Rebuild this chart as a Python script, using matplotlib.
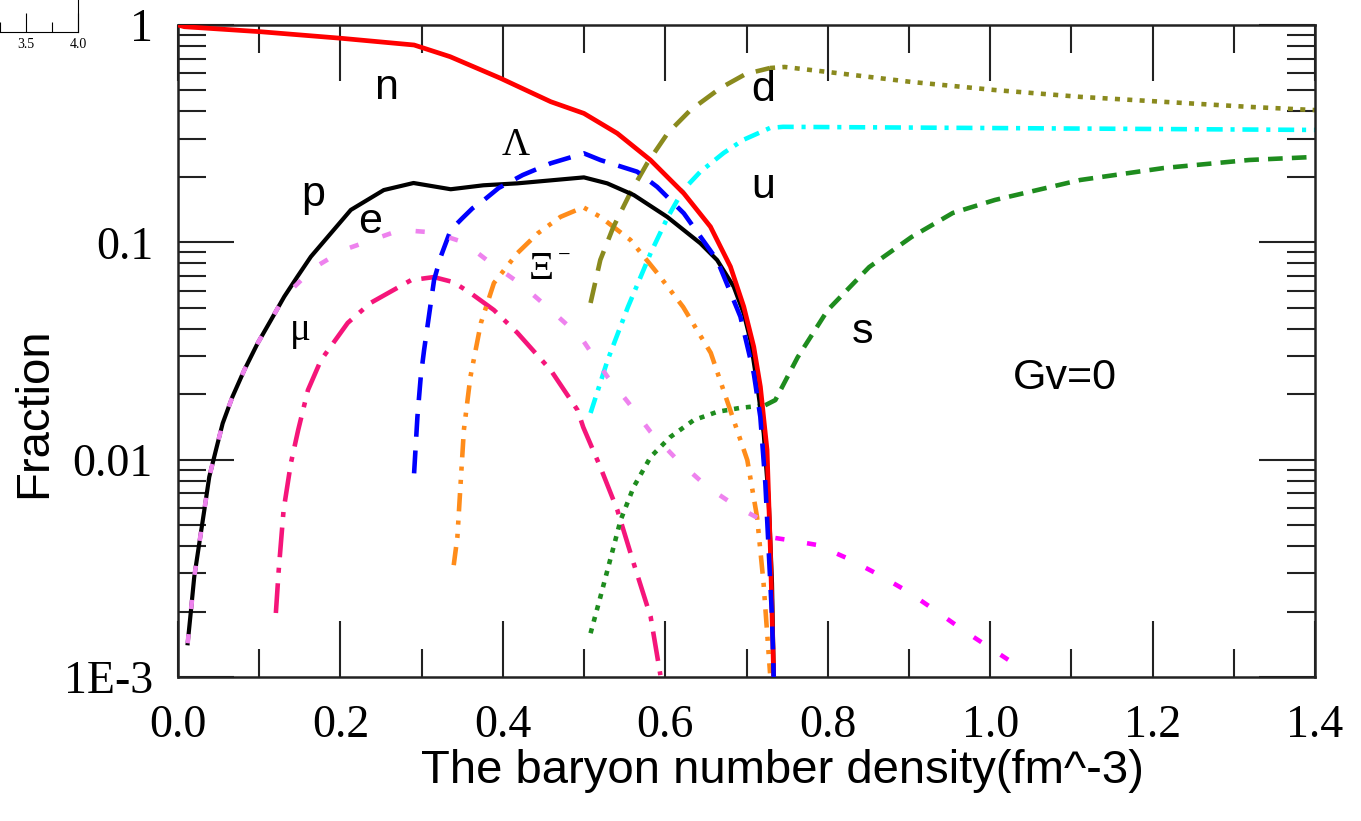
import matplotlib
matplotlib.use("Agg")
import matplotlib.pyplot as plt
from matplotlib.ticker import LogLocator, MultipleLocator, NullFormatter

SERIF = "Liberation Serif"
SANS = "Liberation Sans"

# particle fractions vs baryon density (fm^-3)
n_x = [0.0, 0.0078, 0.102, 0.2005, 0.2907, 0.335, 0.397, 0.459, 0.4998, 0.5408, 0.5818, 0.6228,
       0.6556, 0.6802, 0.6966, 0.7089, 0.7171, 0.7253, 0.7294, 0.7335]
n_y = [1.0, 0.982, 0.931, 0.869, 0.809, 0.715, 0.569, 0.4436, 0.392, 0.3175, 0.239, 0.168,
       0.118, 0.0773, 0.0506, 0.0331, 0.02165, 0.01107, 0.00384, 0.001]

p_x = [0.0119, 0.016, 0.020, 0.0262, 0.0324, 0.0385, 0.0467, 0.055, 0.067, 0.0816, 0.098, 0.1144,
       0.1308, 0.147, 0.1636, 0.2128, 0.2534, 0.290, 0.3358, 0.376, 0.4178, 0.4998,
       0.5285, 0.5613, 0.6023, 0.6433, 0.6638, 0.6843, 0.6966, 0.7048, 0.713, 0.7212, 0.7273,
       0.7314, 0.7335]
p_y = [0.00143, 0.00203, 0.00289, 0.00412, 0.00586, 0.00834, 0.01107, 0.01469, 0.01945, 0.02582,
       0.03428, 0.04385, 0.05623, 0.0695, 0.0859, 0.141, 0.174, 0.1875, 0.1755, 0.183,
       0.1868, 0.199, 0.1868, 0.165, 0.131, 0.0989, 0.0829, 0.0625, 0.0471, 0.0355, 0.02244,
       0.0132, 0.00652, 0.0027, 0.001]

lam_x = [0.2907, 0.2948, 0.2989, 0.303, 0.3071, 0.3112, 0.3153, 0.3235, 0.3358, 0.350, 0.3625,
         0.3768, 0.3948, 0.4244, 0.4588, 0.4998, 0.5203, 0.5654, 0.590, 0.6228, 0.6638, 0.6925,
         0.709, 0.717, 0.7232, 0.7273, 0.7314, 0.7335]
lam_y = [0.00865, 0.01576, 0.02407, 0.0319, 0.0409, 0.0524, 0.0671, 0.0859, 0.114, 0.129, 0.1433,
         0.1566, 0.1778, 0.204, 0.231, 0.2567, 0.239, 0.2113, 0.180, 0.136, 0.0829, 0.0455,
         0.0249, 0.01576, 0.00778, 0.00384, 0.00189, 0.001]

e_x = [0.0119, 0.016, 0.020, 0.0262, 0.0324, 0.0385, 0.0467, 0.055, 0.067, 0.0816, 0.098, 0.1144,
       0.1308, 0.167, 0.204, 0.274, 0.315, 0.352, 0.385, 0.422, 0.459, 0.496, 0.529, 0.554, 0.582,
       0.615, 0.652, 0.689, 0.726]
e_y = [0.00143, 0.00203, 0.00289, 0.00412, 0.00586, 0.00834, 0.01107, 0.01469, 0.01945, 0.02582,
       0.03428, 0.04385, 0.0562, 0.0762, 0.0923, 0.114, 0.111, 0.100, 0.0803, 0.0643, 0.0488,
       0.0366, 0.0240, 0.0184, 0.0134, 0.00995, 0.00748, 0.00605, 0.0051]

eq_x = [0.7355, 0.7515, 0.787, 0.824, 0.861, 0.898, 0.932, 0.967, 1.004, 1.041, 1.045]
eq_y = [0.00436, 0.00427, 0.00405, 0.00352, 0.00298, 0.00248, 0.00203, 0.00164, 0.00133, 0.00108, 0.00105]

mu_x = [0.1205, 0.124, 0.130, 0.139, 0.148, 0.160, 0.176, 0.209, 0.237, 0.287, 0.315, 0.339,
        0.360, 0.389, 0.418, 0.459, 0.492, 0.499, 0.520, 0.541, 0.561, 0.582, 0.594]
mu_y = [0.00197, 0.0031, 0.00586, 0.00964, 0.0137, 0.0209, 0.0287, 0.0426, 0.0526, 0.067, 0.0692,
        0.0656, 0.0585, 0.0488, 0.0383, 0.0258, 0.0169, 0.0141, 0.00925, 0.00586, 0.00334,
        0.00189, 0.00102]

xi_x = [0.3395, 0.344, 0.348, 0.352, 0.360, 0.373, 0.389, 0.418, 0.443, 0.471, 0.499, 0.520,
        0.557, 0.590, 0.622, 0.656, 0.680, 0.701, 0.713, 0.721, 0.729]
xi_y = [0.00327, 0.0044, 0.0078, 0.0137, 0.024, 0.0426, 0.065, 0.0893, 0.110, 0.131, 0.145, 0.131,
        0.1026, 0.0723, 0.0504, 0.031, 0.0169, 0.00995, 0.00545, 0.0027, 0.00104]

d_x = [0.508, 0.520, 0.536, 0.557, 0.578, 0.603, 0.631, 0.668, 0.699, 0.729]
d_y = [0.0526, 0.083, 0.1175, 0.169, 0.232, 0.318, 0.406, 0.513, 0.595, 0.634]

dq_x = [0.729, 0.747, 0.800, 0.903, 1.006, 1.111, 1.214, 1.319, 1.4]
dq_y = [0.634, 0.641, 0.608, 0.547, 0.502, 0.467, 0.443, 0.420, 0.406]

u_x = [0.508, 0.529, 0.554, 0.582, 0.603, 0.622, 0.643, 0.672, 0.696, 0.729, 0.745, 1.4]
u_y = [0.0164, 0.0287, 0.0504, 0.0893, 0.1306, 0.174, 0.211, 0.258, 0.296, 0.336, 0.340, 0.329]

s_x = [0.508, 0.520, 0.533, 0.545, 0.561, 0.582, 0.606, 0.635, 0.664, 0.692, 0.723]
s_y = [0.00159, 0.00233, 0.00356, 0.00527, 0.00748, 0.0103, 0.0127, 0.0152, 0.0166, 0.0173, 0.0178]

sq_x = [0.723, 0.7355, 0.763, 0.800, 0.851, 0.903, 0.954, 1.006, 1.111, 1.214, 1.319, 1.4]
sq_y = [0.0178, 0.0188, 0.0296, 0.0488, 0.0769, 0.1057, 0.1365, 0.1567, 0.1936, 0.2198, 0.2393, 0.2472]

labels = [
    ("n", 0.256, 0.513, SANS),
    ("d", 0.721, 0.502, SANS),
    ("p", 0.167, 0.165, SANS),
    ("u", 0.720, 0.180, SANS),
    ("e", 0.237, 0.124, SANS),
    ("s", 0.843, 0.0387, SANS),
    ("Gv=0", 1.092, 0.0237, SANS),
    ("\u039b", 0.416, 0.280, SERIF),
    ("\u039e", 0.447, 0.0746, SERIF),
    ("\u03bc", 0.151, 0.0395, SERIF),
]

fig = plt.figure(figsize=(13.61, 8.21), dpi=100)
ax = fig.add_axes([178 / 1361, 1 - 677 / 821, 1137 / 1361, 652 / 821])

lw = 3.3
ax.plot(p_x, p_y, color="black", lw=3.0, zorder=3)
ax.plot(n_x, n_y, color="#ff0000", lw=3.4, zorder=4)
ax.plot(lam_x, lam_y, color="#0000ff", lw=lw, ls=(0, (5, 3)), zorder=5)
ax.plot(e_x, e_y, color="#ee82ee", lw=lw, ls=(0, (2, 5.5)), zorder=6)
ax.plot(eq_x, eq_y, color="#ff00ff", lw=lw, ls=(0, (2, 5)))
ax.plot(mu_x, mu_y, color="#f5157a", lw=lw, ls=(0, (6.5, 2.3, 1.1, 2.3)))
ax.plot(xi_x, xi_y, color="#ff8c1a", lw=lw, ls=(0, (4, 2, 0.9, 2, 0.9, 2)))
ax.plot(d_x, d_y, color="#8a8a1e", lw=lw, ls=(0, (4.5, 2.7)))
ax.plot(dq_x, dq_y, color="#8a8a1e", lw=lw, ls=(0, (1.1, 1.6)))
ax.plot(u_x, u_y, color="#00ffff", lw=lw, ls=(0, (3.5, 1.7, 0.9, 1.7)))
ax.plot(s_x, s_y, color="#1e8c1e", lw=lw, ls=(0, (1.1, 1.5)))
ax.plot(sq_x, sq_y, color="#1e8c1e", lw=lw, ls=(0, (3.2, 2)))

for txt, x, y, fam in labels:
    size = 28 if fam == SERIF else 31
    ax.text(x, y, txt, family=fam, fontsize=size, ha="center", va="center")
ax.text(0.475, 0.0865, "\u2212", family=SERIF, fontsize=16, ha="center", va="center")

ax.set_yscale("log")
ax.set_xlim(0, 1.4)
ax.set_ylim(1e-3, 1)
ax.set_xticks([0.0, 0.2, 0.4, 0.6, 0.8, 1.0, 1.2, 1.4])
ax.set_xticklabels(["0.0", "0.2", "0.4", "0.6", "0.8", "1.0", "1.2", "1.4"])
ax.xaxis.set_minor_locator(MultipleLocator(0.1))
ax.set_yticks([1e-3, 1e-2, 1e-1, 1])
ax.set_yticklabels(["1E-3", "0.01", "0.1", "1"])
ax.yaxis.set_minor_locator(LogLocator(base=10, subs=range(2, 10)))
ax.yaxis.set_minor_formatter(NullFormatter())

ax.tick_params(which="both", direction="in", top=True, right=True, width=1.5, color="#222222")
ax.tick_params(which="major", length=40)
ax.tick_params(which="minor", length=20)
ax.tick_params(axis="x", which="major", pad=20)
ax.tick_params(axis="y", which="major", pad=18)
for lab in ax.get_xticklabels() + ax.get_yticklabels():
    lab.set_family(SERIF)
    lab.set_fontsize(33)
for sp in ax.spines.values():
    sp.set_linewidth(1.8)
    sp.set_color("#222222")

ax.set_xlabel("The baryon number density(fm^-3)", family=SANS, fontsize=34)
ax.set_ylabel("Fraction", family=SANS, fontsize=34)
ax.xaxis.set_label_coords(0.532, -0.11)
ax.yaxis.set_label_coords(-0.1075, 0.405)

# corner of the neighbouring panel
ax2 = fig.add_axes([-26 / 1361, 1 - 32 / 821, 104 / 1361, 0.1])
ax2.set_xlim(3.0, 4.0)
ax2.set_ylim(0, 1)
ax2.set_xticks([3.5, 4.0])
ax2.set_xticklabels(["3.5", "4.0"])
ax2.xaxis.set_minor_locator(MultipleLocator(0.25))
ax2.set_yticks([])
ax2.tick_params(which="both", direction="in", width=0.8, pad=4)
ax2.tick_params(which="major", length=14)
ax2.tick_params(which="minor", length=7)
for lab in ax2.get_xticklabels():
    lab.set_family(SERIF)
    lab.set_fontsize(10)
ax2.spines["top"].set_visible(False)
ax2.spines["left"].set_visible(False)
for sp in ("bottom", "right"):
    ax2.spines[sp].set_linewidth(0.8)
ax2.patch.set_alpha(0)

fig.savefig("out.png", dpi=100)
